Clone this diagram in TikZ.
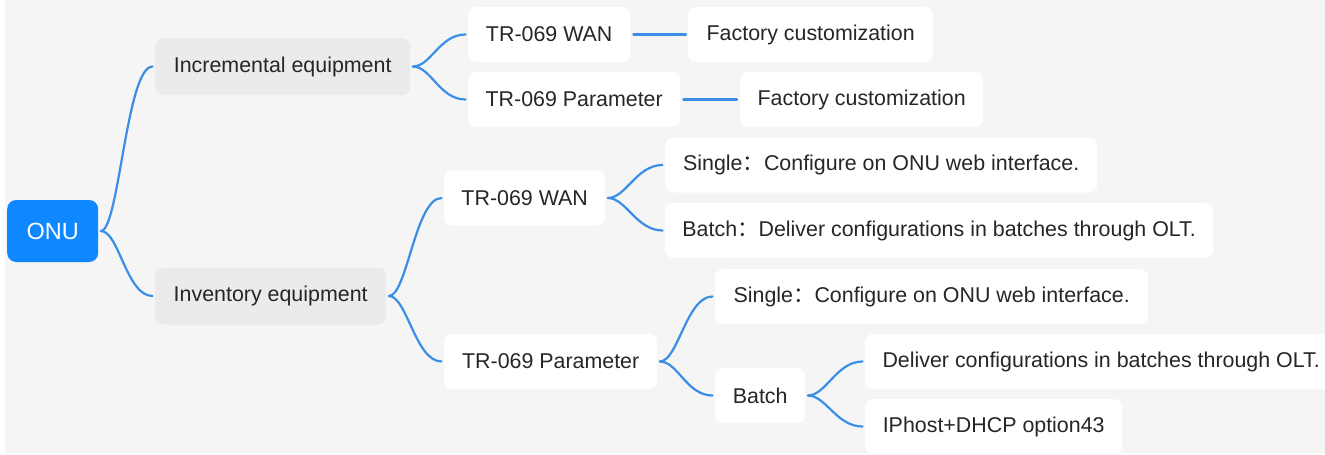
\documentclass[tikz,border=0pt]{standalone}
\usepackage{fontspec}
\setmainfont{Liberation Sans}
\newfontfamily\cjk{Noto Sans CJK SC}
\definecolor{bg}{HTML}{F5F5F5}
\definecolor{graybox}{HTML}{EBEBEB}
\definecolor{onublue}{HTML}{0F87FF}
\definecolor{linkblue}{HTML}{3A8EE6}
\definecolor{txt}{HTML}{262626}
\tikzset{
  mmbox/.style={rounded corners=8pt, fill=white, anchor=west, minimum height=55pt,
    inner xsep=0pt, inner ysep=0pt, text=txt, font=\fontsize{21.4}{25}\selectfont},
  l1box/.style={mmbox, fill=graybox, minimum height=57pt},
  rootbox/.style={rounded corners=9pt, fill=onublue, anchor=west, minimum height=62pt,
    minimum width=91pt, text=white, font=\fontsize{23.5}{27}\selectfont},
  link/.style={draw=linkblue, line width=2.2pt, line cap=round},
}
\newcommand{\fcolon}{{\cjk ：}}
\begin{document}
\begin{tikzpicture}[x=1pt,y=-1pt]
\useasboundingbox (0,0) rectangle (1325,455);
\fill[white] (0,0) rectangle (1325,455);
\fill[bg] (5,0) rectangle (1325,453);
\begin{scope}
\clip (0,0) rectangle (1325,455);
% root and level 1
\node[rootbox] (onu) at (7,231) {ONU};
\node[l1box, minimum width=255pt] (inc) at (155,66.5) {Incremental equipment};
\node[l1box, minimum width=231pt] (inv) at (155,296) {Inventory equipment};
% incremental branch
\node[mmbox, minimum width=162pt] (wanA) at (468,34.5) {TR-069 WAN};
\node[mmbox, minimum width=245pt] (facA) at (688,34.5) {Factory customization};
\node[mmbox, minimum width=212pt] (parA) at (468,99.5) {TR-069 Parameter};
\node[mmbox, minimum width=243pt] (facB) at (740,99.5) {Factory customization};
% inventory branch
\node[mmbox, minimum width=161pt] (wanB) at (444,198) {TR-069 WAN};
\node[mmbox, minimum width=432pt] (sglA) at (665,165) {Single\fcolon Configure on ONU web interface.};
\node[mmbox, minimum width=548pt] (batA) at (665,230.5) {Batch\fcolon Deliver configurations in batches through OLT.};
\node[mmbox, minimum width=213pt] (parB) at (444,361.5) {TR-069 Parameter};
\node[mmbox, minimum width=433pt] (sglB) at (715,296.5) {Single\fcolon Configure on ONU web interface.};
\node[mmbox, minimum width=90pt] (batB) at (715,395.5) {Batch};
\node[mmbox, minimum width=472pt] (dlv) at (865,361.5) {Deliver configurations in batches through OLT.};
\node[mmbox, minimum width=257pt] (iph) at (865,426.5) {IPhost+DHCP option43};
\end{scope}
% connectors
\foreach \a/\b in {onu/inc, onu/inv, inc/wanA, inc/parA, inv/wanB, inv/parB,
                   wanB/sglA, wanB/batA, parB/sglB, parB/batB, batB/dlv, batB/iph}{
  \draw[link] ([xshift=2.5pt]\a.east) .. controls +(18,0) and +(-26,0) .. ([xshift=-2.5pt]\b.west);
}
\draw[link] ([xshift=3pt]wanA.east) -- ([xshift=-2pt]facA.west);
\draw[link] ([xshift=3pt]parA.east) -- ([xshift=-3pt]facB.west);
\end{tikzpicture}
\end{document}
